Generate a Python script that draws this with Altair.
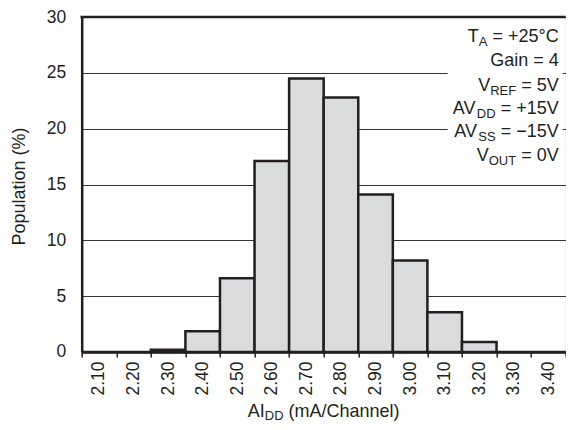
import altair as alt
import pandas as pd

# ---- data ----
bins = ["2.10", "2.20", "2.30", "2.40", "2.50", "2.60", "2.70",
        "2.80", "2.90", "3.00", "3.10", "3.20", "3.30", "3.40"]
population = [0.0, 0.0, 0.2, 1.85, 6.6, 17.1, 24.5,
              22.8, 14.1, 8.2, 3.55, 0.9, 0.0, 0.0]
y_ticks = [0, 5, 10, 15, 20, 25, 30]

# (text, is_subscript, gap_before_in_em)
notes = [
    [("T", False, 0), ("A", True, 0), ("= +25°C", False, 0.278)],
    [("Gain = 4", False, 0)],
    [("V", False, 0), ("REF", True, 0), ("= 5V", False, 0.278)],
    [("AV", False, 0), ("DD", True, 0), ("= +15V", False, 0.278)],
    [("AV", False, 0), ("SS", True, 0), ("= \u221215V", False, 0.278)],
    [("V", False, 0), ("OUT", True, 0), ("= 0V", False, 0.278)],
]
x_title = [("AI", False, 0), ("DD", True, 0), ("(mA/Channel)", False, 0.278)]

# ---- styling ----
FONT = "Liberation Sans"
INK = "#231f20"
W, H = 484, 335
MAIN, SUB = 18, 13

AW = {' ': 278, '=': 584, '+': 584, '\u2212': 584, '°': 400, 'V': 667,
      'C': 722, 'G': 778, 'a': 556, 'i': 222, 'n': 556, 'T': 611, 'A': 667,
      'D': 722, 'S': 667, 'R': 722, 'E': 667, 'F': 611, 'O': 778, 'U': 722,
      'I': 278, '(': 333, ')': 333, 'm': 833, '/': 278, 'h': 556, 'e': 556,
      'l': 222}


def tw(s, size):
    return sum(AW.get(c, 556) for c in s) / 1000.0 * size


def seg_width(segs):
    total = 0
    for s, sub, gap in segs:
        size = SUB if sub else MAIN
        total += gap * MAIN + tw(s, size)
    return total


df = pd.DataFrame({"bin": bins, "pop": population})

bars = alt.Chart(df).mark_bar(
    fill="#dadbdd", stroke=INK, strokeWidth=2.5, width=alt.RelativeBandSize(1)
).encode(
    x=alt.X("bin:O", sort=bins,
            scale=alt.Scale(paddingInner=0, paddingOuter=0),
            axis=alt.Axis(title=None, labelAngle=-90, tickBand="extent",
                          tickSize=5, tickWidth=1.5, tickColor=INK,
                          labelPadding=4, labelFontSize=17.5, labelColor=INK,
                          labelFont=FONT, domain=True, domainColor=INK,
                          domainWidth=2.5, grid=False)),
    y=alt.Y("pop:Q",
            scale=alt.Scale(domain=[0, 30], nice=False),
            axis=alt.Axis(title="Population (%)", values=y_ticks,
                          ticks=False, domain=True, domainColor=INK,
                          domainWidth=2.5, labelPadding=16,
                          labelFontSize=17.5, labelColor=INK, labelFont=FONT,
                          grid=True, gridColor="#333333", gridWidth=1,
                          titleFont=FONT, titleFontSize=18, titleFontWeight="normal",
                          titleColor=INK, titleAngle=-90, titleX=-62.5, titleY=169,
                          titleAlign="center", titleBaseline="middle")),
)

one = pd.DataFrame({"k": [0]})
layers = [bars]

# white box behind the condition notes
layers.append(alt.Chart(one).mark_rect(fill="white").encode(
    x=alt.value(W - 118), x2=alt.value(W - 3), y=alt.value(1.5), y2=alt.value(152)))

# top frame line
layers.append(alt.Chart(one).mark_rule(color=INK, strokeWidth=2.5).encode(
    x=alt.value(-1.25), x2=alt.value(W), y=alt.value(0)))


def seg_layers(segs, start_x, base_y):
    out = []
    x = start_x
    for s, sub, gap in segs:
        size = SUB if sub else MAIN
        x += gap * MAIN
        yy = base_y + (3.5 if sub else 0)
        out.append(alt.Chart(one).mark_text(
            text=s, font=FONT, fontSize=size, color=INK,
            align="left", baseline="alphabetic").encode(
            x=alt.value(x), y=alt.value(yy)))
        x += tw(s, size)
    return out


right_edge = W - 7
baselines = [25, 49, 74, 97, 120, 144]
for segs, by in zip(notes, baselines):
    layers += seg_layers(segs, right_edge - seg_width(segs), by)

layers += seg_layers(x_title, W / 2 - seg_width(x_title) / 2, 400)

chart = alt.layer(*layers).properties(
    width=W, height=H,
    autosize=alt.AutoSizeParams(type="none"),
    padding={"left": 73.7, "top": 9, "right": 0, "bottom": 70},
).configure_view(stroke=None).configure(background="white")

chart.save("out.html", embed_options={"renderer": "svg", "actions": False})
